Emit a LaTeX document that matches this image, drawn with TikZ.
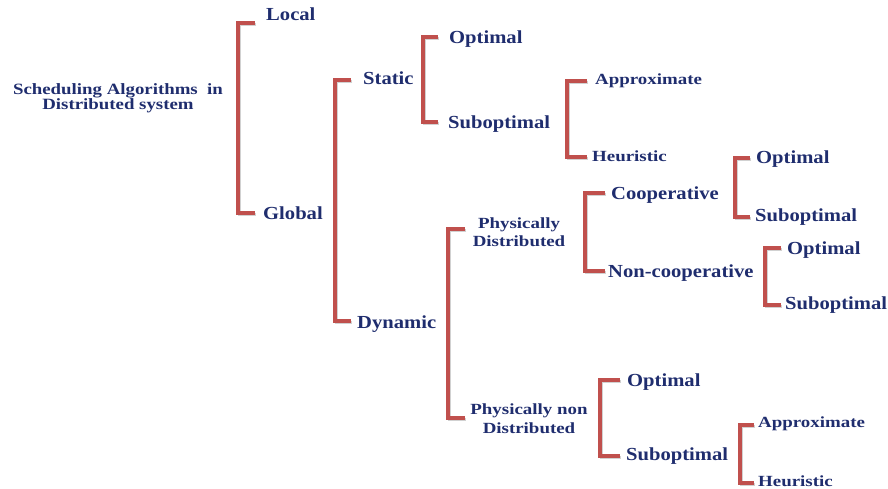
\documentclass[tikz,border=0pt]{standalone}
\usepackage{fontspec}
\setmainfont{Liberation Serif}
\newfontfamily\fbig{Liberation Serif}[FakeStretch=1.12]
\newfontfamily\fsmall{Liberation Serif}[FakeStretch=1.22]
\newfontfamily\froot{Liberation Serif}[FakeStretch=1.2]
\definecolor{navy}{HTML}{1F2D6E}
\definecolor{brred}{HTML}{C0504D}
\tikzset{
  big/.style={font=\fbig\bfseries\fontsize{18.4}{20}\selectfont, text=navy, inner sep=0pt, anchor=base west},
  small/.style={font=\fsmall\bfseries\fontsize{15.5}{18}\selectfont, text=navy, inner sep=0pt, anchor=base west},
  multi/.style={font=\fsmall\bfseries\fontsize{15.5}{#1}\selectfont, text=navy, inner sep=0pt, align=center, anchor=center},
  rootnode/.style={font=\froot\bfseries\fontsize{15.7}{14}\selectfont, text=navy, inner sep=0pt, align=center, anchor=center},
  br/.style={draw=brred, line width=3.2pt, line join=miter},
  brshadow/.style={draw=black!45, opacity=.4, line width=3.2pt, line join=miter, transform canvas={xshift=1.4pt,yshift=-1.4pt}}
}
\newcommand\mybracket[5]{%
  \coordinate (#1t) at (#2,#4);
  \coordinate (#1b) at (#2,#5);
  \coordinate (#1v) at (#3,#5);
  \draw[brshadow] (#1t) -| (#1v) -- (#1b);
  \draw[br] (#1t) -| (#1v) -- (#1b);
}
\begin{document}
\begin{tikzpicture}[x=1pt,y=-1pt]
\useasboundingbox (0,0) rectangle (888,488);
% brackets
\mybracket{A}{255}{238}{23}{213}
\mybracket{B}{351}{335}{80}{321}
\mybracket{C}{438}{423}{37}{122}
\mybracket{D}{587}{567}{81}{157}
\mybracket{E}{465}{448}{229}{418}
\mybracket{F}{605}{585}{193}{271}
\mybracket{G}{750}{735}{158}{217}
\mybracket{H}{781}{765}{248}{305}
\mybracket{I}{620}{600}{380}{456}
\mybracket{J}{754}{740}{425}{483}
% texts
\node[rootnode] (root) at (118,98) {Scheduling Algorithms~ in\\Distributed system};
\node[big] (local) at (266,20) {Local};
\node[big] (global) at (263,219) {Global};
\node[big] (static) at (363,84) {Static};
\node[big] (dynamic) at (357,328) {Dynamic};
\node[big] (sopt) at (449,43) {Optimal};
\node[big] (ssub) at (448,128) {Suboptimal};
\node[small] (sapp) at (595,84) {Approximate};
\node[small] (sheu) at (592,161) {Heuristic};
\node[multi=18] (pd) at (519,232) {Physically\\Distributed};
\node[big] (coop) at (611,199) {Cooperative};
\node[big] (ncoop) at (608,277) {Non-cooperative};
\node[big] (copt) at (756,163) {Optimal};
\node[big] (csub) at (755,221) {Suboptimal};
\node[big] (nopt) at (787,254) {Optimal};
\node[big] (nsub) at (785,309) {Suboptimal};
\node[multi=19] (pnd) at (529,418.5) {Physically non\\Distributed};
\node[big] (popt) at (627,386) {Optimal};
\node[big] (psub) at (626,460) {Suboptimal};
\node[small] (papp) at (758,427) {Approximate};
\node[small] (pheu) at (758,486) {Heuristic};
\end{tikzpicture}
\end{document}
